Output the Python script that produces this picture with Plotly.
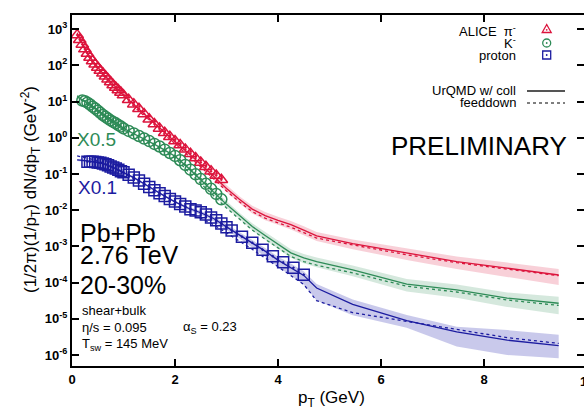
import plotly.graph_objects as go

# ---------------- data ----------------
pi_pt = [0.10, 0.15, 0.20, 0.25, 0.30, 0.35, 0.40, 0.45, 0.50, 0.55, 0.60, 0.65, 0.70,
         0.75, 0.80, 0.85, 0.90, 0.95, 1.00, 1.10, 1.20, 1.30, 1.40, 1.50, 1.60, 1.70,
         1.80, 1.90, 2.00, 2.10, 2.20, 2.30, 2.40, 2.50, 2.60, 2.70, 2.80, 2.90]
pi_val = [692, 513, 380, 282, 214, 166, 132, 107, 87.1, 72.4, 60.3, 50.1, 41.7,
          34.7, 28.8, 24.5, 20.9, 17.8, 15.1, 11.2, 8.51, 6.31, 4.57, 3.24, 2.40, 1.82,
          1.38, 1.07, 0.813, 0.631, 0.479, 0.363, 0.275, 0.209, 0.158, 0.120, 0.0912, 0.0692]

k_pt = [0.20, 0.25, 0.30, 0.35, 0.40, 0.45, 0.50, 0.55, 0.60, 0.65, 0.70, 0.75, 0.80,
        0.85, 0.90, 0.95, 1.00, 1.10, 1.20, 1.30, 1.40, 1.50, 1.60, 1.70, 1.80, 1.90,
        2.00, 2.10, 2.20, 2.30, 2.40, 2.50, 2.60, 2.70, 2.80, 2.90]
k_val = [10.7, 10.2, 9.33, 8.32, 7.24, 6.46, 5.62, 4.90, 4.27, 3.80, 3.39, 3.02, 2.75,
         2.51, 2.24, 2.04, 1.82, 1.55, 1.32, 1.12, 0.955, 0.813, 0.676, 0.575, 0.468, 0.380,
         0.316, 0.240, 0.178, 0.132, 0.0977, 0.0724, 0.0537, 0.0389, 0.0282, 0.0200]

p_pt = [0.30, 0.35, 0.40, 0.45, 0.50, 0.55, 0.60, 0.65, 0.70, 0.75, 0.80, 0.85, 0.90,
        0.95, 1.00, 1.10, 1.20, 1.30, 1.40, 1.50, 1.60, 1.70, 1.80, 1.90, 2.00, 2.10,
        2.20, 2.30, 2.40, 2.50, 2.60, 2.70, 2.80, 2.90, 3.00, 3.10, 3.30, 3.50, 3.70,
        3.90, 4.10, 4.30, 4.50]
p_val = [0.219, 0.219, 0.219, 0.214, 0.209, 0.204, 0.195, 0.186, 0.174, 0.162, 0.151, 0.141, 0.132,
         0.120, 0.112, 0.0955, 0.0794, 0.0661, 0.0537, 0.0437, 0.0355, 0.0295, 0.0245, 0.0204, 0.0174, 0.0148,
         0.0126, 0.0107, 0.00977, 0.00871, 0.00759, 0.00631, 0.00525, 0.00427, 0.00339, 0.00275, 0.00186, 0.00126, 0.000813,
         0.000537, 0.000363, 0.000257, 0.000166]

# model (UrQMD w/ coll = solid, feeddown = dotted), common pT grid
m_pt = [0.1, 0.2, 0.3, 0.4, 0.5, 0.6, 0.8, 1.0, 1.2, 1.4, 1.6, 1.8, 2.0, 2.25, 2.5, 2.75,
        3.0, 3.25, 3.5, 3.75, 4.0, 4.25, 4.5, 4.75, 5.45, 6.5, 7.47, 8.45, 9.45]

pi_coll = [794, 398, 219, 135, 89.1, 60.3, 29.5, 15.1, 8.32, 4.57, 2.45, 1.35, 0.776, 0.389, 0.186, 0.0871,
           0.0398, 0.0200, 0.0107, 0.00708, 0.00525, 0.00398, 0.00282, 0.00195, 0.00120, 0.000646, 0.000380, 0.000251, 0.000162]
pi_fd = [708, 355, 195, 120, 79.4, 53.7, 26.3, 13.5, 7.41, 4.07, 2.19, 1.20, 0.692, 0.331, 0.158, 0.0741,
         0.0339, 0.0170, 0.00912, 0.00603, 0.00447, 0.00339, 0.00240, 0.00170, 0.00110, 0.000589, 0.000355, 0.000234, 0.000155]
pi_err_lo = [0.06, 0.06, 0.06, 0.06, 0.06, 0.06, 0.06, 0.06, 0.06, 0.06, 0.06, 0.06, 0.06, 0.10, 0.13, 0.16,
             0.20, 0.22, 0.24, 0.25, 0.25, 0.26, 0.27, 0.28, 0.30, 0.35, 0.38, 0.42, 0.47]
pi_err_hi = pi_err_lo

k_coll = [13.5, 11.5, 9.33, 7.41, 5.89, 4.57, 2.82, 1.82, 1.29, 0.933, 0.661, 0.457, 0.309, 0.151, 0.0708, 0.0316,
          0.0145, 0.00708, 0.00355, 0.00200, 0.00112, 0.000661, 0.000479, 0.000380, 0.000224, 0.0000912, 0.0000631, 0.0000372, 0.0000269]
k_fd = [14.5, 11.5, 8.71, 6.61, 5.25, 4.07, 2.51, 1.62, 1.15, 0.832, 0.589, 0.407, 0.275, 0.120, 0.0562, 0.0251,
        0.0115, 0.00562, 0.00282, 0.00158, 0.000891, 0.000525, 0.000380, 0.000302, 0.000186, 0.0000794, 0.0000550, 0.0000331, 0.0000234]
k_err_lo = [0.06, 0.06, 0.06, 0.06, 0.06, 0.06, 0.06, 0.06, 0.06, 0.06, 0.06, 0.06, 0.06, 0.10, 0.12, 0.15,
            0.18, 0.20, 0.22, 0.24, 0.25, 0.27, 0.28, 0.30, 0.33, 0.38, 0.40, 0.43, 0.50]
k_err_hi = k_err_lo

p_coll = [0.245, 0.240, 0.229, 0.219, 0.209, 0.195, 0.151, 0.112, 0.0794, 0.0537, 0.0355, 0.0245, 0.0170, 0.0115, 0.00851, 0.00589,
          0.00347, 0.00209, 0.00126, 0.000741, 0.000417, 0.000263, 0.000158, 0.0000708, 0.0000251, 0.00000891, 0.00000437, 0.00000257, 0.00000182]
p_fd = [0.316, 0.302, 0.275, 0.251, 0.229, 0.204, 0.151, 0.107, 0.0724, 0.0479, 0.0309, 0.0204, 0.0138, 0.00891, 0.00603, 0.00398,
        0.00240, 0.00141, 0.000832, 0.000479, 0.000269, 0.000158, 0.0000891, 0.0000316, 0.0000148, 0.00000851, 0.00000501, 0.00000302, 0.00000209]
p_err_lo = [0.06, 0.06, 0.06, 0.06, 0.06, 0.06, 0.06, 0.06, 0.06, 0.06, 0.06, 0.06, 0.06, 0.10, 0.12, 0.15,
            0.18, 0.20, 0.25, 0.30, 0.35, 0.40, 0.45, 0.55, 0.50, 0.37, 0.61, 0.61, 0.55]
p_err_hi = [0.06, 0.06, 0.06, 0.06, 0.06, 0.06, 0.06, 0.06, 0.06, 0.06, 0.06, 0.06, 0.06, 0.10, 0.12, 0.15,
            0.18, 0.20, 0.20, 0.22, 0.25, 0.28, 0.30, 0.30, 0.35, 0.44, 0.37, 0.90, 0.98]

y_tickvals = [1e-6, 1e-5, 1e-4, 1e-3, 1e-2, 1e-1, 1e0, 1e1, 1e2, 1e3]
y_ticktext = ["10<sup>-6</sup>", "10<sup>-5</sup>", "10<sup>-4</sup>", "10<sup>-3</sup>", "10<sup>-2</sup>",
              "10<sup>-1</sup>", "10<sup>0</sup>", "10<sup>1</sup>", "10<sup>2</sup>", "10<sup>3</sup>"]
x_tickvals = [0, 2, 4, 6, 8]

# ---------------- styling ----------------
FONT = "Liberation Sans, Arial, Helvetica, sans-serif"
C_PI = "#dc143c"
C_K = "#2e8b57"
C_P = "#1c1ca0"
B_PI = "rgba(220,20,60,0.20)"
B_K = "rgba(46,139,87,0.20)"
B_P = "rgba(40,40,175,0.25)"

W, H = 584, 417
L, R, T, B = 72, 0, 15, 51
PW, PH = W - L - R, H - T - B


def px(x):
    return (x - L) / PW


def py(y):
    return (H - B - y) / PH


fig = go.Figure()

species = [
    (m_pt, pi_coll, pi_fd, pi_err_lo, pi_err_hi, C_PI, B_PI),
    (m_pt, k_coll, k_fd, k_err_lo, k_err_hi, C_K, B_K),
    (m_pt, p_coll, p_fd, p_err_lo, p_err_hi, C_P, B_P),
]

# bands
for xs, coll, fd, elo, ehi, col, bcol in species:
    hi = [v * (1 + e) for v, e in zip(coll, ehi)]
    lo = [v * (1 - e) for v, e in zip(coll, elo)]
    fig.add_trace(go.Scatter(x=xs + xs[::-1], y=hi + lo[::-1], fill="toself", fillcolor=bcol,
                             line=dict(width=0), mode="lines", hoverinfo="skip", showlegend=False))

# lines
for xs, coll, fd, elo, ehi, col, bcol in species:
    fig.add_trace(go.Scatter(x=xs, y=coll, mode="lines", line=dict(color=col, width=1.3),
                             showlegend=False))
    fig.add_trace(go.Scatter(x=xs, y=fd, mode="lines", line=dict(color=col, width=1.3, dash="dot"),
                             showlegend=False))

# data points
for xs, ys, col, sym in [(pi_pt, pi_val, C_PI, "triangle-up-open-dot"),
                         (k_pt, k_val, C_K, "circle-open-dot"),
                         (p_pt, p_val, C_P, "square-open-dot")]:
    fig.add_trace(go.Scatter(x=xs, y=ys, mode="markers",
                             marker=dict(symbol=sym, size=11, color=col, line=dict(color=col, width=1.5)),
                             showlegend=False))

ann = []


def text(x, y, s, size, color="black", xanchor="left", **kw):
    ann.append(dict(x=px(x), y=py(y), xref="paper", yref="paper", text=s, showarrow=False,
                    xanchor=xanchor, yanchor="middle", font=dict(family=FONT, size=size, color=color), **kw))


# legend texts
text(518, 31, "ALICE  π<sup>-</sup>", 13, xanchor="right")
text(518, 43, "K<sup>-</sup>", 13, xanchor="right")
text(518, 55, "proton", 13, xanchor="right")
text(518, 91, "UrQMD w/ coll", 13, xanchor="right")
text(518, 103, "feeddown", 13, xanchor="right")

# in-plot labels
text(75, 139, "X0.5", 19, color=C_K)
text(76, 188, "X0.1", 19, color=C_P)
text(479, 146, "PRELIMINARY", 26, xanchor="center")
text(78, 233, "Pb+Pb", 25)
text(78, 255, "2.76 TeV", 25)
text(78, 285, "20-30%", 25)
text(80, 310, "shear+bulk", 13)
text(80, 327, "η/s = 0.095", 13)
text(181, 327, "α<sub>S</sub> = 0.23", 13)
text(80, 344, "T<sub>sw</sub> = 145 MeV", 13)

# axis titles
text(30, 190, "(1/2π)(1/p<sub>T</sub>) dN/dp<sub>T</sub> (GeV<sup>-2</sup>)", 17, xanchor="center", textangle=-90)
text(331, 399, "p<sub>T</sub> (GeV)", 17, xanchor="center")
# clipped "10" tick label at right edge
ann.append(dict(x=px(587), y=py(381), xref="paper", yref="paper", text="10", showarrow=False,
                xanchor="center", yanchor="middle",
                font=dict(family=FONT, size=13, color="black", weight="bold")))

shapes = []
# legend keys
tri = "M {:.5f},{:.5f} L {:.5f},{:.5f} L {:.5f},{:.5f} Z".format(px(542.2), py(32.5), px(551.2), py(32.5), px(546.7), py(24.5))
shapes.append(dict(type="path", path=tri, xref="paper", yref="paper", line=dict(color=C_PI, width=1.3)))
shapes.append(dict(type="circle", xref="paper", yref="paper", x0=px(542.7), x1=px(550.7), y0=py(47), y1=py(39),
                   line=dict(color=C_K, width=1.3)))
shapes.append(dict(type="rect", xref="paper", yref="paper", x0=px(542.7), x1=px(550.7), y0=py(59), y1=py(51),
                   line=dict(color=C_P, width=1.3)))
for cx, cy, col in [(546.7, 29.8, C_PI), (546.7, 43, C_K), (546.7, 55, C_P)]:
    shapes.append(dict(type="circle", xref="paper", yref="paper", x0=px(cx - 0.9), x1=px(cx + 0.9),
                       y0=py(cy + 0.9), y1=py(cy - 0.9), fillcolor=col, line=dict(width=0)))
shapes.append(dict(type="line", xref="paper", yref="paper", x0=px(527), x1=px(565), y0=py(91), y1=py(91),
                   line=dict(color="#555555", width=1.8)))
shapes.append(dict(type="line", xref="paper", yref="paper", x0=px(527), x1=px(565), y0=py(103), y1=py(103),
                   line=dict(color="#555555", width=1.3, dash="dot")))

axis_common = dict(showline=True, linewidth=2, linecolor="black", mirror="ticks", ticks="inside",
                   ticklen=7, tickwidth=1.5, tickcolor="black", showgrid=False, zeroline=False,
                   tickfont=dict(family=FONT, size=13, color="black", weight="bold"))

fig.update_layout(
    width=W, height=H, margin=dict(l=L, r=R, t=T, b=B, autoexpand=False),
    paper_bgcolor="white", plot_bgcolor="white",
    xaxis=dict(range=[0, PW / 51.5], tickvals=x_tickvals, **axis_common),
    yaxis=dict(type="log", range=[-6.304, 3.392], tickvals=y_tickvals, ticktext=y_ticktext, **axis_common),
    annotations=ann, shapes=shapes, showlegend=False,
)

fig.write_html("out.html")
